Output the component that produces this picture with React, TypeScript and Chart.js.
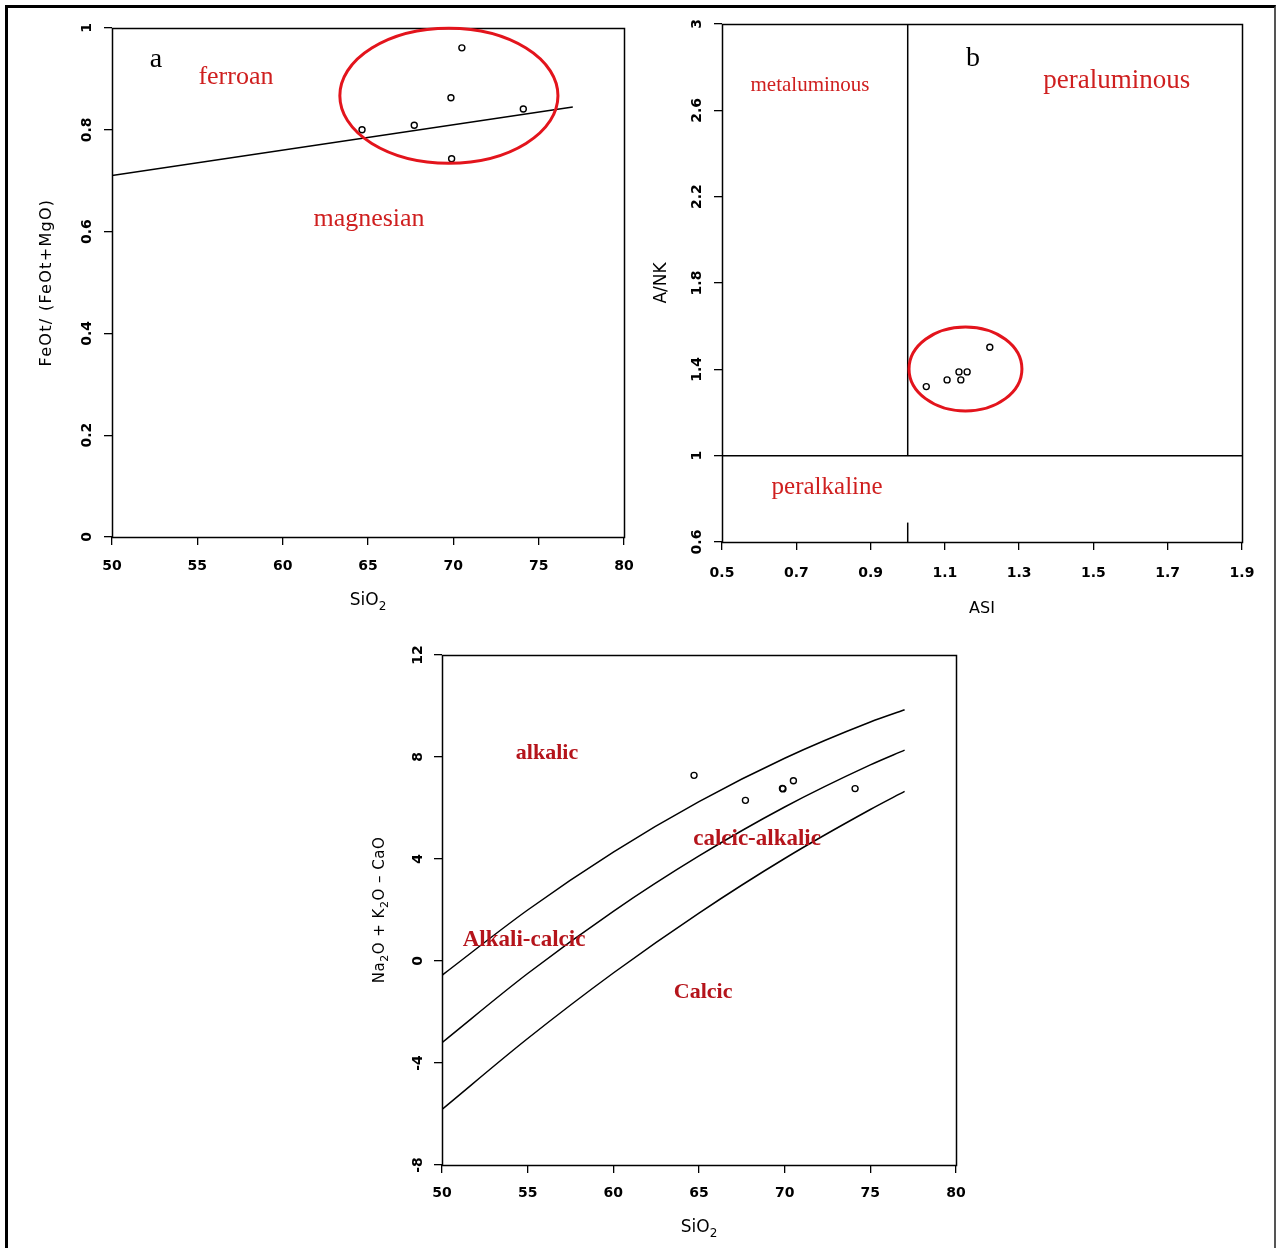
import React, { useEffect, useRef } from 'react';
import { Chart, registerables } from 'chart.js';

Chart.register(...registerables);

// ---------- Panel a : FeOt/(FeOt+MgO) vs SiO2 ----------
const sio2A = [70.5, 69.86, 74.1, 64.65, 67.71, 69.9];
const feNumA = [0.961, 0.863, 0.841, 0.8, 0.809, 0.743];
const ferroanLineSiO2 = [50, 77];
const ferroanLineFe = [0.71, 0.845];
const xTicksA = [50, 55, 60, 65, 70, 75, 80];
const xLabelsA = ['50', '55', '60', '65', '70', '75', '80'];
const yTicksA = [0, 0.2, 0.4, 0.6, 0.8, 1];
const yLabelsA = ['0', '0.2', '0.4', '0.6', '0.8', '1'];

// ---------- Panel b : A/NK vs ASI ----------
const asiB = [1.221, 1.138, 1.16, 1.106, 1.143, 1.05];
const ankB = [1.502, 1.388, 1.388, 1.351, 1.351, 1.32];
const asiDivideLine = [1, 1];
const asiDivideUpper = [1, 3];
const asiDivideStub = [0.6, 0.69];
const ankDivideAsi = [0.5, 1.9];
const ankDivideLine = [1, 1];
const xTicksB = [0.5, 0.7, 0.9, 1.1, 1.3, 1.5, 1.7, 1.9];
const xLabelsB = ['0.5', '0.7', '0.9', '1.1', '1.3', '1.5', '1.7', '1.9'];
const yTicksB = [0.6, 1, 1.4, 1.8, 2.2, 2.6, 3];
const yLabelsB = ['0.6', '1', '1.4', '1.8', '2.2', '2.6', '3'];

// ---------- Panel c : Na2O+K2O-CaO vs SiO2 ----------
const sio2C = [64.71, 67.71, 69.87, 69.9, 70.51, 74.11];
const maliC = [7.28, 6.3, 6.77, 6.75, 7.07, 6.76];
const boundarySiO2 = [50, 55, 60, 65, 70, 75, 77];
const alkalicBoundary = [-0.56, 2.0, 4.27, 6.25, 7.95, 9.37, 9.85];
const alkaliCalcicBoundary = [-3.2, -0.49, 1.95, 4.12, 6.04, 7.69, 8.27];
const calcAlkalicBoundary = [-5.82, -3.04, -0.47, 1.88, 4.02, 5.94, 6.65];
const xTicksC = [50, 55, 60, 65, 70, 75, 80];
const xLabelsC = ['50', '55', '60', '65', '70', '75', '80'];
const yTicksC = [-8, -4, 0, 4, 8, 12];
const yLabelsC = ['-8', '-4', '0', '4', '8', '12'];

type Part = [string, boolean];
type Ann = { text: string; x: number; y: number; font: string; color: string };
type Ell = { cx: number; cy: number; rx: number; ry: number };
type PanelCfg = {
  left: number; top: number; width: number; height: number;
  padTop: number; padRight: number; yAxisW: number; xAxisH: number;
  xMin: number; xMax: number; yMin: number; yMax: number;
  xTicks: number[]; yTicks: number[]; xLabels: string[]; yLabels: string[];
  datasets: any[]; anns: Ann[]; ellipse?: Ell;
  xTitle: Part[]; yTitle: Part[]; titleSize: number; yTitleSize: number; yTitleSpacing: number;
  xLabelOff: number; yLabelOff: number; xTitleOff: number; yTitleOff: number;
};

const pts = (xs: number[], ys: number[]) => xs.map((x, i) => ({ x, y: ys[i] }));

const pointDs = (xs: number[], ys: number[]) => ({
  data: pts(xs, ys),
  showLine: false,
  pointRadius: 3,
  pointBorderWidth: 1.4,
  pointBorderColor: '#000',
  pointBackgroundColor: 'rgba(255,255,255,0)',
});

const lineDs = (xs: number[], ys: number[], smooth = false) => ({
  data: pts(xs, ys),
  showLine: true,
  borderColor: '#000',
  borderWidth: 1.5,
  pointRadius: 0,
  fill: false,
  tension: smooth ? 0.4 : 0,
  cubicInterpolationMode: smooth ? 'monotone' : 'default',
});

const RED = '#cf1f1f';
const DARKRED = '#b5141b';
const ELL_RED = '#e3141c';

function drawRich(ctx: CanvasRenderingContext2D, parts: Part[], x: number, y: number, size: number, rotate: boolean, spacing = 0) {
  ctx.save();
  ctx.translate(x, y);
  if (rotate) ctx.rotate(-Math.PI / 2);
  const fN = `${size}px "DejaVu Sans"`;
  const fS = `${Math.round(size * 0.72)}px "DejaVu Sans"`;
  (ctx as any).letterSpacing = `${spacing}px`;
  let total = 0;
  const ws = parts.map(([t, sub]) => {
    ctx.font = sub ? fS : fN;
    const w = ctx.measureText(t).width;
    total += w;
    return w;
  });
  ctx.textAlign = 'left';
  ctx.textBaseline = 'middle';
  ctx.fillStyle = '#000';
  let cx = -total / 2;
  parts.forEach(([t, sub], i) => {
    ctx.font = sub ? fS : fN;
    ctx.fillText(t, cx, sub ? size * 0.32 : 0);
    cx += ws[i];
  });
  ctx.restore();
}

const decor = (cfg: PanelCfg) => ({
  id: 'decor',
  afterDatasetsDraw(chart: any) {
    const { ctx, chartArea: a } = chart;
    const xs = chart.scales.x;
    const ys = chart.scales.y;
    ctx.save();
    ctx.strokeStyle = '#000';
    ctx.lineWidth = 1.5;
    ctx.strokeRect(Math.round(a.left) + 0.5, Math.round(a.top) + 0.5, Math.round(a.right - a.left), Math.round(a.bottom - a.top));
    if (cfg.ellipse) {
      const e = cfg.ellipse;
      const cx = xs.getPixelForValue(e.cx);
      const cy = ys.getPixelForValue(e.cy);
      const rx = Math.abs(xs.getPixelForValue(e.cx + e.rx) - cx);
      const ry = Math.abs(ys.getPixelForValue(e.cy + e.ry) - cy);
      ctx.beginPath();
      ctx.ellipse(cx, cy, rx, ry, 0, 0, Math.PI * 2);
      ctx.strokeStyle = ELL_RED;
      ctx.lineWidth = 3;
      ctx.stroke();
    }
    ctx.textAlign = 'center';
    ctx.textBaseline = 'middle';
    cfg.anns.forEach((an) => {
      ctx.font = an.font;
      ctx.fillStyle = an.color;
      ctx.fillText(an.text, xs.getPixelForValue(an.x), ys.getPixelForValue(an.y));
    });
    ctx.restore();
  },
  afterDraw(chart: any) {
    const { ctx, chartArea: a } = chart;
    const xs = chart.scales.x;
    const ys = chart.scales.y;
    ctx.save();
    ctx.fillStyle = '#000';
    ctx.font = 'bold 14px "DejaVu Sans"';
    ctx.textAlign = 'center';
    ctx.textBaseline = 'middle';
    xs.ticks.forEach((t: any, i: number) => {
      ctx.fillText(cfg.xLabels[i], xs.getPixelForValue(t.value), a.bottom + cfg.xLabelOff);
    });
    ys.ticks.forEach((t: any, i: number) => {
      ctx.save();
      ctx.translate(a.left - cfg.yLabelOff, ys.getPixelForValue(t.value));
      ctx.rotate(-Math.PI / 2);
      ctx.fillText(cfg.yLabels[i], 0, 0);
      ctx.restore();
    });
    ctx.restore();
    drawRich(ctx, cfg.xTitle, (a.left + a.right) / 2, a.bottom + cfg.xTitleOff, cfg.titleSize, false);
    drawRich(ctx, cfg.yTitle, a.left - cfg.yTitleOff, (a.top + a.bottom) / 2, cfg.yTitleSize, true, cfg.yTitleSpacing);
  },
});

const mkScale = (min: number, max: number, ticks: number[], size: number, isX: boolean) => ({
  type: 'linear',
  min,
  max,
  afterBuildTicks: (s: any) => {
    s.ticks = ticks.map((v) => ({ value: v }));
  },
  afterFit: (s: any) => {
    if (isX) s.height = size;
    else s.width = size;
  },
  ticks: { display: false },
  grid: { drawOnChartArea: false, drawTicks: true, tickLength: 8, color: '#000', lineWidth: 1.3 },
  border: { display: false },
  title: { display: false },
});

function Panel({ cfg }: { cfg: PanelCfg }) {
  const ref = useRef<HTMLCanvasElement>(null);
  useEffect(() => {
    const chart = new Chart(ref.current as HTMLCanvasElement, {
      type: 'scatter',
      data: { datasets: cfg.datasets },
      options: {
        animation: false,
        responsive: false,
        devicePixelRatio: 1,
        events: [],
        layout: { padding: { left: 0, bottom: 0, top: cfg.padTop, right: cfg.padRight }, autoPadding: false },
        plugins: { legend: { display: false }, tooltip: { enabled: false } },
        scales: {
          x: mkScale(cfg.xMin, cfg.xMax, cfg.xTicks, cfg.xAxisH, true),
          y: mkScale(cfg.yMin, cfg.yMax, cfg.yTicks, cfg.yAxisW, false),
        },
      } as any,
      plugins: [decor(cfg)],
    });
    return () => chart.destroy();
  }, []);
  return (
    <canvas
      ref={ref}
      width={cfg.width}
      height={cfg.height}
      style={{ position: 'absolute', left: cfg.left, top: cfg.top, width: cfg.width, height: cfg.height }}
    />
  );
}

const panelA: PanelCfg = {
  left: 20, top: 10, width: 620, height: 620,
  padTop: 18, padRight: 16, yAxisW: 92, xAxisH: 93,
  xMin: 50, xMax: 80, yMin: 0, yMax: 1,
  xTicks: xTicksA, yTicks: yTicksA, xLabels: xLabelsA, yLabels: yLabelsA,
  datasets: [pointDs(sio2A, feNumA), lineDs(ferroanLineSiO2, ferroanLineFe)],
  anns: [
    { text: 'a', x: 52.58, y: 0.937, font: '28px "Liberation Serif"', color: '#000' },
    { text: 'ferroan', x: 57.26, y: 0.904, font: '26px "Liberation Serif"', color: RED },
    { text: 'magnesian', x: 65.06, y: 0.625, font: '26px "Liberation Serif"', color: RED },
  ],
  ellipse: { cx: 69.74, cy: 0.867, rx: 6.39, ry: 0.1326 },
  xTitle: [['SiO', false], ['2', true]],
  yTitle: [['FeOt/ (FeOt+MgO)', false]],
  titleSize: 17, yTitleSize: 16, yTitleSpacing: 1.3,
  xLabelOff: 29, yLabelOff: 25, xTitleOff: 64, yTitleOff: 65,
};

const panelB: PanelCfg = {
  left: 640, top: 5, width: 630, height: 630,
  padTop: 19, padRight: 28, yAxisW: 82, xAxisH: 93,
  xMin: 0.5, xMax: 1.9, yMin: 0.6, yMax: 3,
  xTicks: xTicksB, yTicks: yTicksB, xLabels: xLabelsB, yLabels: yLabelsB,
  datasets: [
    pointDs(asiB, ankB),
    lineDs(ankDivideAsi, ankDivideLine),
    lineDs(asiDivideLine, asiDivideUpper),
    lineDs(asiDivideLine, asiDivideStub),
  ],
  anns: [
    { text: 'b', x: 1.1756, y: 2.838, font: '28px "Liberation Serif"', color: '#000' },
    { text: 'metaluminous', x: 0.737, y: 2.713, font: '21px "Liberation Serif"', color: RED },
    { text: 'peraluminous', x: 1.563, y: 2.736, font: '27px "Liberation Serif"', color: RED },
    { text: 'peralkaline', x: 0.783, y: 0.855, font: '25px "Liberation Serif"', color: RED },
  ],
  ellipse: { cx: 1.1555, cy: 1.4017, rx: 0.152, ry: 0.1946 },
  xTitle: [['ASI', false]],
  yTitle: [['A/NK', false]],
  titleSize: 16, yTitleSize: 17, yTitleSpacing: 0,
  xLabelOff: 31, yLabelOff: 25, xTitleOff: 67, yTitleOff: 60,
};

const panelC: PanelCfg = {
  left: 350, top: 635, width: 630, height: 613,
  padTop: 20, padRight: 24, yAxisW: 92, xAxisH: 83,
  xMin: 50, xMax: 80, yMin: -8, yMax: 12,
  xTicks: xTicksC, yTicks: yTicksC, xLabels: xLabelsC, yLabels: yLabelsC,
  datasets: [
    pointDs(sio2C, maliC),
    lineDs(boundarySiO2, alkalicBoundary, true),
    lineDs(boundarySiO2, alkaliCalcicBoundary, true),
    lineDs(boundarySiO2, calcAlkalicBoundary, true),
  ],
  anns: [
    { text: 'alkalic', x: 56.13, y: 8.16, font: 'bold 22px "Liberation Serif"', color: DARKRED },
    { text: 'calcic-alkalic', x: 68.39, y: 4.78, font: 'bold 23px "Liberation Serif"', color: DARKRED },
    { text: 'Alkali-calcic', x: 54.79, y: 0.82, font: 'bold 23px "Liberation Serif"', color: DARKRED },
    { text: 'Calcic', x: 65.24, y: -1.22, font: 'bold 22px "Liberation Serif"', color: DARKRED },
  ],
  xTitle: [['SiO', false], ['2', true]],
  yTitle: [['Na', false], ['2', true], ['O + K', false], ['2', true], ['O – CaO', false]],
  titleSize: 17, yTitleSize: 15, yTitleSpacing: 0.5,
  xLabelOff: 28, yLabelOff: 24, xTitleOff: 63, yTitleOff: 62,
};

export default function App() {
  return (
    <div
      style={{
        position: 'absolute', left: 0, top: 0, width: 1278, height: 1248,
        overflow: 'hidden', background: '#fff',
      }}
    >
      <div
        style={{
          position: 'absolute', left: 5, top: 5, width: 1266, height: 1260,
          borderLeft: '3px solid #000', borderTop: '3px solid #000', borderRight: '2px solid #555',
        }}
      />
      <Panel cfg={panelA} />
      <Panel cfg={panelB} />
      <Panel cfg={panelC} />
    </div>
  );
}
